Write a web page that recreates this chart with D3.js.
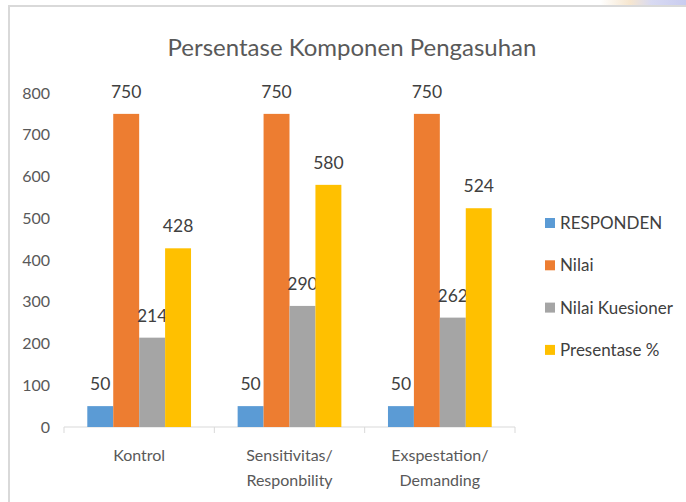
<!DOCTYPE html>
<html>
<head>
<meta charset="utf-8">
<script src="https://cdn.jsdelivr.net/npm/d3@7"></script>
<style>
  body { margin: 0; background: #fff; }
  text { font-family: Lato, "Open Sans", sans-serif; }
</style>
</head>
<body>
<div id="chart"></div>
<script>
const categories = [["Kontrol"], ["Sensitivitas/", "Responbility"], ["Exspestation/", "Demanding"]];
const seriesNames = ["RESPONDEN", "Nilai", "Nilai Kuesioner", "Presentase %"];
const responden = [50, 50, 50];
const nilai = [750, 750, 750];
const nilaiKuesioner = [214, 290, 262];
const presentase = [428, 580, 524];
const yTicks = [0, 100, 200, 300, 400, 500, 600, 700, 800];
const colors = ["#5B9BD5", "#ED7D31", "#A5A5A5", "#FFC000"];

const seriesValues = [responden, nilai, nilaiKuesioner, presentase];
const width = 686, height = 502;

const svg = d3.select("#chart")
  .append("svg")
    .attr("width", width)
    .attr("height", height);

// faint page decoration peeking above the chart, top right
const grad = svg.append("defs").append("linearGradient")
  .attr("id", "deco").attr("x1", "0").attr("x2", "1");
grad.append("stop").attr("offset", "0").attr("stop-color", "#fff");
grad.append("stop").attr("offset", "0.35").attr("stop-color", "#f6e6cf");
grad.append("stop").attr("offset", "0.6").attr("stop-color", "#d8daf2");
grad.append("stop").attr("offset", "1").attr("stop-color", "#c9ccef");
svg.append("rect")
  .attr("x", 600).attr("y", 0)
  .attr("width", 86).attr("height", 6)
  .attr("fill", "url(#deco)");

// frame of the pasted chart
svg.append("rect")
  .attr("x", 9).attr("y", 6)
  .attr("width", width).attr("height", height)
  .attr("fill", "#fff")
  .attr("stroke", "#d9d9d9")
  .attr("stroke-width", 2);

const catKeys = categories.map((c, i) => i);
const x0 = d3.scaleBand()
  .domain(catKeys)
  .range([64, 515])
  .paddingInner(0.31)
  .paddingOuter(0.155);

const x1 = d3.scaleBand()
  .domain(d3.range(seriesNames.length))
  .range([0, x0.bandwidth()]);

const y = d3.scaleLinear()
  .domain([0, 800])
  .range([427, 93]);

// title
svg.append("text")
  .attr("x", 352).attr("y", 56)
  .attr("text-anchor", "middle")
  .attr("font-size", 24)
  .attr("fill", "#595959")
  .text("Persentase Komponen Pengasuhan");

// y axis labels (no line)
const yAxis = svg.append("g")
  .attr("transform", "translate(50,0)")
  .call(d3.axisLeft(y).tickValues(yTicks).tickSize(0).tickPadding(0));
yAxis.select(".domain").remove();
yAxis.selectAll("text")
  .attr("font-size", 16)
  .attr("fill", "#595959")
  .style("font-family", "Lato, sans-serif");

// x axis line with category separators
const step = x0.step();
const xAxis = svg.append("g");
xAxis.append("line")
  .attr("x1", 64).attr("x2", 515)
  .attr("y1", y(0)).attr("y2", y(0))
  .attr("stroke", "#d9d9d9");
xAxis.selectAll(".sep")
  .data(d3.range(categories.length + 1))
  .enter().append("line")
    .attr("x1", i => 64 + i * step)
    .attr("x2", i => 64 + i * step)
    .attr("y1", y(0)).attr("y2", y(0) + 6)
    .attr("stroke", "#d9d9d9");

xAxis.selectAll(".cat")
  .data(categories)
  .enter().append("text")
    .attr("text-anchor", "middle")
    .attr("font-size", 16)
    .attr("fill", "#595959")
    .each(function(lines, i) {
      const t = d3.select(this);
      lines.forEach((ln, j) => {
        t.append("tspan")
          .attr("x", x0(i) + x0.bandwidth() / 2)
          .attr("y", 461 + j * 25)
          .text(ln);
      });
    });

// bars
seriesValues.forEach((vals, s) => {
  svg.selectAll(".bar" + s)
    .data(vals)
    .enter().append("rect")
      .attr("x", (d, i) => x0(i) + x1(s))
      .attr("y", d => y(d))
      .attr("width", x1.bandwidth())
      .attr("height", d => y(0) - y(d))
      .attr("fill", colors[s]);

  svg.selectAll(".lbl" + s)
    .data(vals)
    .enter().append("text")
      .attr("x", (d, i) => x0(i) + x1(s) + x1.bandwidth() / 2)
      .attr("y", d => y(d) - 16)
      .attr("text-anchor", "middle")
      .attr("font-size", 17.5)
      .attr("fill", "#404040")
      .text(d => d);
});

// legend
const legend = svg.append("g");
seriesNames.forEach((name, s) => {
  const ly = 223 + s * 42.3;
  legend.append("rect")
    .attr("x", 545).attr("y", ly - 5)
    .attr("width", 10).attr("height", 10)
    .attr("fill", colors[s]);
  legend.append("text")
    .attr("x", 560).attr("y", ly + 6)
    .attr("font-size", 17)
    .attr("fill", "#404040")
    .text(name);
});
</script>
</body>
</html>
